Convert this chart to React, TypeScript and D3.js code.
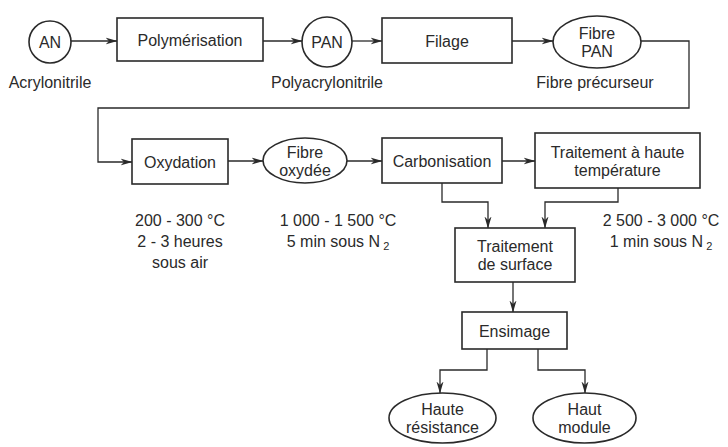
import React, { useEffect, useRef } from 'react';
import * as d3 from 'd3';

// Process steps (id, text lines, shape)
const nodeIds = ['AN', 'polym', 'PAN', 'filage', 'fibrePAN', 'oxyd', 'fibreOx', 'carbo', 'tht', 'surface', 'ensimage', 'hr', 'hm'];
const nodeLines: Record<string, string[]> = {
  AN: ['AN'],
  polym: ['Polymérisation'],
  PAN: ['PAN'],
  filage: ['Filage'],
  fibrePAN: ['Fibre', 'PAN'],
  oxyd: ['Oxydation'],
  fibreOx: ['Fibre', 'oxydée'],
  carbo: ['Carbonisation'],
  tht: ['Traitement à haute', 'température'],
  surface: ['Traitement', 'de surface'],
  ensimage: ['Ensimage'],
  hr: ['Haute', 'résistance'],
  hm: ['Haut', 'module'],
};
const nodeShapes: Record<string, string> = {
  AN: 'circle', PAN: 'circle', fibrePAN: 'ellipse', fibreOx: 'ellipse', hr: 'ellipse', hm: 'ellipse',
};

// Captions under nodes
const captionNodes = ['AN', 'PAN', 'fibrePAN'];
const captionTexts = ['Acrylonitrile', 'Polyacrylonitrile', 'Fibre précurseur'];

// Process conditions (line text, subscript)
const conditionGroups = ['oxyd', 'fibreOx', 'tht'];
const conditionLines: [string, string][][] = [
  [['200 - 300 °C', ''], ['2 - 3 heures', ''], ['sous air', '']],
  [['1 000 - 1 500 °C', ''], ['5 min sous N', '2']],
  [['2 500 - 3 000 °C', ''], ['1 min sous N', '2']],
];

// Flow links
const edges: [string, string][] = [
  ['AN', 'polym'], ['polym', 'PAN'], ['PAN', 'filage'], ['filage', 'fibrePAN'],
  ['fibrePAN', 'oxyd'], ['oxyd', 'fibreOx'], ['fibreOx', 'carbo'], ['carbo', 'tht'],
  ['carbo', 'surface'], ['tht', 'surface'], ['surface', 'ensimage'],
  ['ensimage', 'hr'], ['ensimage', 'hm'],
];

// layout (px)
const box: Record<string, { x0: number; x1: number; y0: number; y1: number }> = {
  AN: { x0: 29, x1: 71, y0: 21, y1: 63 },
  polym: { x0: 117, x1: 263, y0: 18, y1: 61 },
  PAN: { x0: 302, x1: 352, y0: 17, y1: 67 },
  filage: { x0: 382, x1: 512, y0: 18, y1: 63 },
  fibrePAN: { x0: 553, x1: 641, y0: 16, y1: 68 },
  oxyd: { x0: 132, x1: 228, y0: 139, y1: 184 },
  fibreOx: { x0: 263, x1: 347, y0: 138, y1: 183 },
  carbo: { x0: 382, x1: 502, y0: 138, y1: 183 },
  tht: { x0: 535, x1: 700, y0: 133, y1: 188 },
  surface: { x0: 455, x1: 575, y0: 228, y1: 282 },
  ensimage: { x0: 462, x1: 567, y0: 312, y1: 349 },
  hr: { x0: 389, x1: 496, y0: 393, y1: 443 },
  hm: { x0: 533, x1: 636, y0: 393, y1: 443 },
};

const routes: Record<string, [number, number][]> = {
  'fibrePAN>oxyd': [[641, 41], [689, 41], [689, 108], [98, 108], [98, 162], [132, 162]],
  'carbo>surface': [[442, 183], [442, 202], [488, 202], [488, 228]],
  'tht>surface': [[618, 188], [618, 202], [545, 202], [545, 228]],
  'surface>ensimage': [[513, 282], [513, 312]],
  'ensimage>hr': [[487, 349], [487, 370], [440, 370], [440, 393]],
  'ensimage>hm': [[538, 349], [538, 370], [585, 370], [585, 393]],
};

const FONT = '"Liberation Sans", Arial, sans-serif';
const INK = '#2a2a2a';
const FS = 16;

function route(a: string, b: string): [number, number][] {
  const r = routes[`${a}>${b}`];
  if (r) return r;
  const A = box[a], B = box[b];
  const y = ['AN', 'polym', 'PAN', 'filage', 'fibrePAN'].includes(a) ? 41 : 161;
  return [[A.x1, y], [B.x0, y]];
}

export default function App() {
  const ref = useRef<SVGSVGElement>(null);

  useEffect(() => {
    document.body.style.margin = '0';
    const svg = d3.select(ref.current);
    svg.selectAll('*').remove();

    svg.append('defs').append('marker')
      .attr('id', 'arr').attr('viewBox', '0 0 12 8').attr('refX', 11.5).attr('refY', 4)
      .attr('markerWidth', 12).attr('markerHeight', 8).attr('markerUnits', 'userSpaceOnUse')
      .attr('orient', 'auto')
      .append('path').attr('d', 'M0,0.5 L12,4 L0,7.5 L3.5,4 Z').attr('fill', INK);

    const line = d3.line<[number, number]>().x(d => d[0]).y(d => d[1]);

    svg.append('g').selectAll('path').data(edges).join('path')
      .attr('d', d => line(route(d[0], d[1])))
      .attr('fill', 'none').attr('stroke', INK).attr('stroke-width', 1.3)
      .attr('marker-end', 'url(#arr)');

    const g = svg.append('g').selectAll('g').data(nodeIds).join('g');
    g.each(function (id) {
      const b = box[id];
      const sel = d3.select(this);
      const cx = (b.x0 + b.x1) / 2, cy = (b.y0 + b.y1) / 2;
      const shape = nodeShapes[id] || 'rect';
      if (shape === 'rect') {
        sel.append('rect').attr('x', b.x0).attr('y', b.y0).attr('width', b.x1 - b.x0).attr('height', b.y1 - b.y0)
          .attr('fill', '#fff').attr('stroke', INK).attr('stroke-width', 1.6);
      } else {
        sel.append('ellipse').attr('cx', cx).attr('cy', cy).attr('rx', (b.x1 - b.x0) / 2).attr('ry', (b.y1 - b.y0) / 2)
          .attr('fill', '#fff').attr('stroke', INK).attr('stroke-width', 1.6);
      }
      const lines = nodeLines[id];
      const lh = 18;
      lines.forEach((t, i) => {
        sel.append('text').attr('x', cx).attr('y', cy + (i - (lines.length - 1) / 2) * lh + 6)
          .attr('text-anchor', 'middle').attr('font-family', FONT).attr('font-size', FS).attr('fill', INK).text(t);
      });
    });

    svg.append('g').selectAll('text').data(captionNodes).join('text')
      .attr('x', id => (box[id].x0 + box[id].x1) / 2 - (id === 'fibrePAN' ? 2 : 0))
      .attr('y', 88)
      .attr('text-anchor', 'middle').attr('font-family', FONT).attr('font-size', FS).attr('fill', INK)
      .text((_, i) => captionTexts[i]);

    const condX: Record<string, number> = { oxyd: 180, fibreOx: 338, tht: 661 };
    conditionGroups.forEach((id, gi) => {
      conditionLines[gi].forEach(([t, sub], i) => {
        const txt = svg.append('text').attr('x', condX[id]).attr('y', 226 + i * 21)
          .attr('text-anchor', 'middle').attr('font-family', FONT).attr('font-size', FS).attr('fill', INK);
        txt.append('tspan').text(t);
        if (sub) txt.append('tspan').attr('dx', 3).attr('dy', 3).attr('font-size', 11).text(sub);
      });
    });
  }, []);

  return (
    <svg ref={ref} width={728} height={447} style={{ display: 'block', background: '#fff' }} />
  );
}
